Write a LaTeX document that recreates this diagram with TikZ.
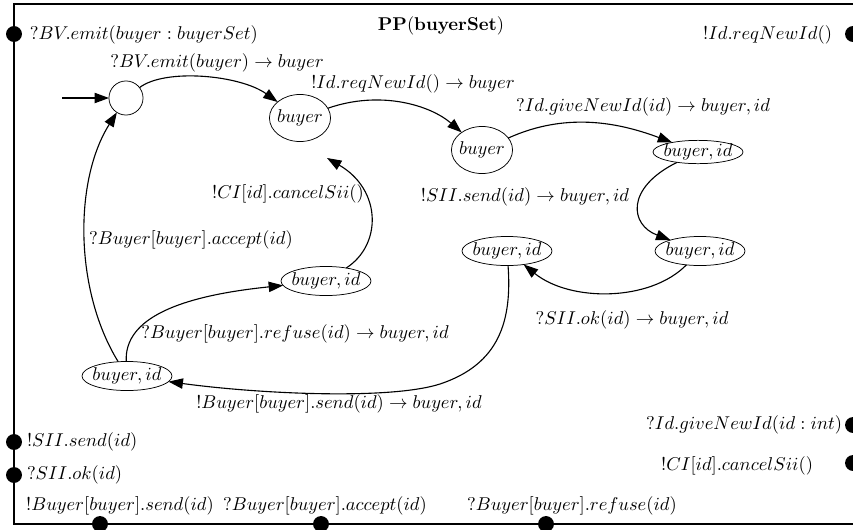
\documentclass[tikz,border=0pt]{standalone}
\usetikzlibrary{arrows.meta,shapes.geometric}
\begin{document}
\begin{tikzpicture}
    [x=0.54pt,y=-0.54pt,
     every node/.style={inner sep=0pt,outer sep=0pt},
     st/.style={draw,ellipse,inner xsep=-2pt,inner ysep=0pt,minimum height=15.7pt},
     bs/.style={st,minimum width=33pt,minimum height=25.4pt},
     bi/.style={st,minimum width=48.6pt},
     port/.style={circle,fill=black,minimum size=8.6pt},
     tr/.style={-{Triangle[length=7.8pt,width=5.6pt]},line width=0.6pt}]
    \useasboundingbox (0,0) rectangle (853,529);
    \draw[line width=0.7pt] (856,4) -- (14,4) -- (14,524) -- (856,524);

    \node (title) at (441,26) {$\mathbf{PP}(\mathbf{buyerSet})$};

    \node[circle,draw,minimum size=18.4pt] (s0) at (126,98) {};
    \node[bs] (s1) at (300,118) {$buyer$};
    \node[bs] (s2) at (482,150) {$buyer$};
    \node[bi,minimum height=11.3pt] (s3) at (698,152) {$buyer, id$};
    \node[bi] (s4) at (700,251) {$buyer, id$};
    \node[bi] (s5) at (507,251) {$buyer, id$};
    \node[bi] (s6) at (326,281) {$buyer, id$};
    \node[bi] (s7) at (127,376) {$buyer, id$};
    \coordinate (init) at (62,98);
    \coordinate (s1in) at (327,158);

    \draw[tr] (init) -- (s0);
    \draw[tr] (s0) .. controls (165,68) and (240,75) .. (s1);
    \draw[tr] (s1) .. controls (380,90) and (430,105) .. (s2);
    \draw[tr] (s2) .. controls (570,110) and (625,125) .. (s3);
    \draw[tr] (s3) .. controls (625,188) and (630,225) .. (s4);
    \draw[tr] (s4) .. controls (650,302) and (570,302) .. (s5);
    \draw[tr] (s5) .. controls (512,320) and (500,364) .. (440,384)
                   .. controls (390,400) and (260,394) .. (s7);
    \draw[tr] (s7) .. controls (124,318) and (180,296) .. (s6);
    \draw[tr] (s6) .. controls (382,245) and (382,190) .. (s1in);
    \draw[tr] (s7) .. controls (74,290) and (74,180) .. (s0);

    \node (t1) at (217,63) {$?BV.emit(buyer) \rightarrow buyer$};
    \node (t2) at (413,84) {$!Id.reqNewId() \rightarrow buyer$};
    \node (t3) at (643,107) {$?Id.giveNewId(id) \rightarrow buyer, id$};
    \node (t4) at (525,197) {$!SII.send(id) \rightarrow buyer, id$};
    \node (t5) at (632,320) {$?SII.ok(id) \rightarrow buyer, id$};
    \node (t6) at (339,404) {$!Buyer[buyer].send(id) \rightarrow buyer, id$};
    \node (t7) at (295,334) {$?Buyer[buyer].refuse(id) \rightarrow buyer, id$};
    \node (t8) at (288,194) {$!CI[id].cancelSii()$};
    \node (t9) at (191,240) {$?Buyer[buyer].accept(id)$};

    \node[port] (p1) at (14,34) {};
    \node[port] (p2) at (853,34) {};
    \node[port] (p3) at (853,425) {};
    \node[port] (p4) at (853,463) {};
    \node[port] (p5) at (14,442) {};
    \node[port] (p6) at (14,475) {};
    \node[port] (p7) at (100,524) {};
    \node[port] (p8) at (321,524) {};
    \node[port] (p9) at (546,524) {};
    \node[anchor=west] (q1) at (30,35) {$?BV.emit(buyer : buyerSet)$};
    \node[anchor=east] (q2) at (832,35) {$!Id.reqNewId()$};
    \node[anchor=east] (q3) at (842,425) {$?Id.giveNewId(id : int)$};
    \node[anchor=east] (q4) at (813,466) {$!CI[id].cancelSii()$};
    \node[anchor=west] (q5) at (27,442) {$!SII.send(id)$};
    \node[anchor=west] (q6) at (27,475) {$?SII.ok(id)$};
    \node (q7) at (120,506) {$!Buyer[buyer].send(id)$};
    \node (q8) at (325,506) {$?Buyer[buyer].accept(id)$};
    \node (q9) at (572,506) {$?Buyer[buyer].refuse(id)$};
\end{tikzpicture}
\end{document}
